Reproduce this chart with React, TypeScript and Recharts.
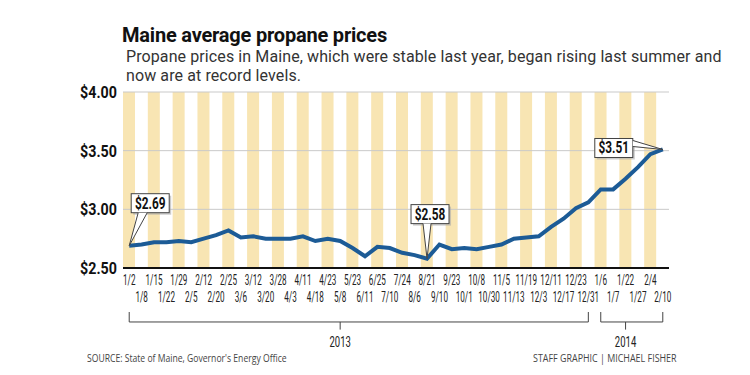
import React from "react";
import {
  ComposedChart,
  Bar,
  Line,
  XAxis,
  YAxis,
  ReferenceLine,
  ReferenceDot,
} from "recharts";

// tick labels, alternating upper / lower row
const dates = [
  "1/2", "1/8", "1/15", "1/22", "1/29", "2/5", "2/12", "2/20", "2/25", "3/6",
  "3/12", "3/20", "3/28", "4/3", "4/11", "4/18", "4/23", "5/8", "5/23", "6/11",
  "6/25", "7/10", "7/24", "8/6", "8/21", "9/10", "9/23", "10/1", "10/8", "10/30",
  "11/5", "11/13", "11/19", "12/3", "12/11", "12/17", "12/23", "12/31", "1/6", "1/7",
  "1/22", "1/27", "2/4", "2/10",
];

const prices = [
  2.69, 2.7, 2.72, 2.72, 2.73, 2.72, 2.75, 2.78, 2.82, 2.76,
  2.77, 2.75, 2.75, 2.75, 2.77, 2.73, 2.75, 2.73, 2.67, 2.6,
  2.68, 2.67, 2.63, 2.61, 2.58, 2.7, 2.66, 2.67, 2.66, 2.68,
  2.7, 2.75, 2.76, 2.77, 2.85, 2.92, 3.01, 3.06, 3.17, 3.17,
  3.26, 3.36, 3.47, 3.51,
];

const yTicks = [2.5, 3, 3.5, 4];

const FONT = "Roboto, sans-serif";
const YELLOW = "#f8e5b3";
const BLUE = "#1c5b96";

const data = dates.map((d, i) => ({
  key: `p${i}`,
  label: d,
  price: prices[i],
  stripe: i % 2 === 0 ? 4 : null,
}));

const k = (i: number) => `p${i}`;

// condensed text: the reference uses a narrow gothic face
const Narrow = ({ x, y, sx, anchor = "middle", children, ...rest }: any) => (
  <text
    transform={`translate(${x},${y}) scale(${sx},1)`}
    textAnchor={anchor}
    fontFamily={FONT}
    {...rest}
  >
    {children}
  </text>
);

const DateTick = (props: any) => {
  const { x, y, payload, index } = props;
  const i = index ?? dates.findIndex((_, j) => k(j) === payload.value);
  const lower = i % 2 === 1;
  return (
    <Narrow x={x} y={y + (lower ? 26 : 9)} sx={0.58} fontSize={14} fill="#222">
      {dates[i]}
    </Narrow>
  );
};

const PriceTick = (props: any) => {
  const { x, y, payload } = props;
  return (
    <Narrow
      x={x + 2}
      y={y + 6}
      sx={0.84}
      anchor="end"
      fontSize={17}
      fontWeight="bold"
      fill="#111"
    >
      ${Number(payload.value).toFixed(2)}
    </Narrow>
  );
};

const boxes: Record<number, { dx: number; dy: number; ptr: number[][] }> = {
  0: { dx: 2, dy: -52, ptr: [[7, 19], [16, 19]] },
  24: { dx: -16, dy: -54, ptr: [[12, 19], [20, 19]] },
  43: { dx: -68, dy: -11, ptr: [[38, 2], [38, 8]] },
};

const Callout = (props: any) => {
  const { x, y, index, value } = props;
  const b = boxes[index];
  if (!b || x == null) return null;
  const bx = x + b.dx;
  const by = y + b.dy;
  const w = 38;
  const h = 19;
  const [p1, p2] = b.ptr;
  return (
    <g>
      <rect x={bx + 2} y={by + 2} width={w} height={h} fill="#aaa" opacity={0.6} />
      <rect x={bx} y={by} width={w} height={h} fill="#fff" stroke="#444" strokeWidth={1} />
      <polygon
        points={`${bx + p1[0]},${by + p1[1]} ${bx + p2[0]},${by + p2[1]} ${x},${y}`}
        fill="#fff"
        stroke="none"
      />
      <line x1={bx + p1[0]} y1={by + p1[1]} x2={x} y2={y} stroke="#444" strokeWidth={1} />
      <line x1={bx + p2[0]} y1={by + p2[1]} x2={x} y2={y} stroke="#444" strokeWidth={1} />
      <Narrow
        x={bx + w / 2}
        y={by + h / 2 + 5.5}
        sx={0.74}
        fontWeight="bold"
        fontSize={16}
        fill="#111"
      >
        ${Number(value).toFixed(2)}
      </Narrow>
    </g>
  );
};

const YearText = ({ cx, cy, text }: any) => (
  <Narrow x={cx} y={cy + 5} sx={0.68} fontSize={14} fill="#222">
    {text}
  </Narrow>
);

const bracketStroke = { stroke: "#444", strokeWidth: 1 };

export default function App() {
  return (
    <div
      style={{
        position: "absolute",
        left: 0,
        top: 0,
        width: 750,
        height: 375,
        background: "#fff",
        fontFamily: FONT,
      }}
    >
      <div
        style={{
          position: "absolute",
          left: 122,
          top: 23,
          fontSize: 20,
          fontWeight: 700,
          color: "#111",
          letterSpacing: -0.2,
        }}
      >
        Maine average propane prices
      </div>
      <div
        style={{
          position: "absolute",
          left: 126,
          top: 47,
          width: 620,
          fontSize: 16,
          lineHeight: "19px",
          color: "#333",
          letterSpacing: 0.1,
        }}
      >
        Propane prices in Maine, which were stable last year, began rising last summer and
        <br />
        now are at record levels.
      </div>
      <ComposedChart
        width={750}
        height={375}
        data={data}
        margin={{ top: 92, right: 81, bottom: 77, left: 83 }}
        barCategoryGap={0}
      >
        <XAxis
          dataKey="key"
          interval={0}
          height={30}
          tick={<DateTick />}
          tickLine={false}
          axisLine={{ stroke: "#111", strokeWidth: 2 }}
        />
        <YAxis
          domain={[2.5, 4]}
          ticks={yTicks}
          width={40}
          axisLine={false}
          tickLine={false}
          tick={<PriceTick />}
        />
        <Bar dataKey="stripe" fill={YELLOW} isAnimationActive={false} />
        {yTicks.slice(1).map((t) => (
          <ReferenceLine key={t} y={t} stroke="#c9c9c9" strokeWidth={1} />
        ))}
        <Line
          dataKey="price"
          stroke={BLUE}
          strokeWidth={4}
          dot={false}
          isAnimationActive={false}
          label={<Callout />}
        />
        {/* 2013 bracket */}
        <ReferenceLine segment={[{ x: k(0), y: 2.04 }, { x: k(37), y: 2.04 }]} ifOverflow="visible" {...bracketStroke} />
        <ReferenceLine segment={[{ x: k(0), y: 2.04 }, { x: k(0), y: 2.125 }]} ifOverflow="visible" {...bracketStroke} />
        <ReferenceLine segment={[{ x: k(37), y: 2.04 }, { x: k(37), y: 2.125 }]} ifOverflow="visible" {...bracketStroke} />
        <ReferenceLine segment={[{ x: k(17), y: 2.04 }, { x: k(17), y: 1.975 }]} ifOverflow="visible" {...bracketStroke} />
        <ReferenceDot x={k(17)} y={1.87} r={0} ifOverflow="visible" shape={(p: any) => <YearText {...p} text="2013" />} />
        {/* 2014 bracket */}
        <ReferenceLine segment={[{ x: k(38), y: 2.04 }, { x: k(43), y: 2.04 }]} ifOverflow="visible" {...bracketStroke} />
        <ReferenceLine segment={[{ x: k(38), y: 2.04 }, { x: k(38), y: 2.125 }]} ifOverflow="visible" {...bracketStroke} />
        <ReferenceLine segment={[{ x: k(43), y: 2.04 }, { x: k(43), y: 2.125 }]} ifOverflow="visible" {...bracketStroke} />
        <ReferenceLine segment={[{ x: k(40), y: 2.04 }, { x: k(40), y: 1.975 }]} ifOverflow="visible" {...bracketStroke} />
        <ReferenceDot x={k(40)} y={1.87} r={0} ifOverflow="visible" shape={(p: any) => <YearText {...p} text="2014" />} />
      </ComposedChart>
      <div
        style={{
          position: "absolute",
          left: 87,
          top: 351,
          fontSize: 10.5,
          color: "#444",
          fontFamily: "'Open Sans', sans-serif",
          transform: "scaleX(0.82)",
          transformOrigin: "left top",
          whiteSpace: "nowrap",
        }}
      >
        SOURCE: State of Maine, Governor's Energy Office
      </div>
      <div
        style={{
          position: "absolute",
          left: 533,
          top: 351,
          fontSize: 10.5,
          color: "#444",
          fontFamily: "'Open Sans', sans-serif",
          transform: "scaleX(0.85)",
          transformOrigin: "left top",
          whiteSpace: "nowrap",
        }}
      >
        STAFF GRAPHIC | MICHAEL FISHER
      </div>
    </div>
  );
}
